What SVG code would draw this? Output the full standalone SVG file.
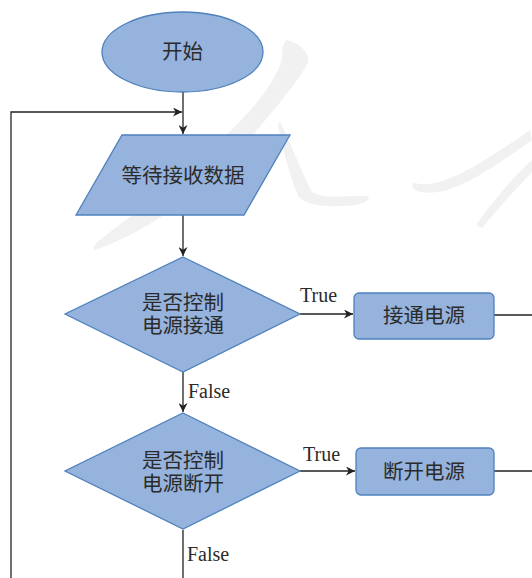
<svg xmlns="http://www.w3.org/2000/svg" width="532" height="578" viewBox="0 0 532 578">
<defs>
<style>
.shape{fill:#95B3DC;stroke:#4F81BD;stroke-width:1.3}
.cn{font-family:"Liberation Serif","Noto Sans CJK SC",serif;font-size:20.5px;fill:#2b2b2b;text-anchor:middle}
.lbl{font-family:"Liberation Serif",serif;font-size:20px;fill:#2b2b2b}
.wire{fill:none;stroke:#222;stroke-width:1.3}
.wm{fill:#f1f1f1;stroke:none}
</style>
<marker id="arr" viewBox="0 0 10 10" refX="10" refY="5" markerWidth="9" markerHeight="9" markerUnits="userSpaceOnUse" orient="auto">
<path d="M0,0 L10,5 L0,10 L3,5 Z" fill="#222"/>
</marker>
</defs>
<rect width="532" height="578" fill="#fff"/>
<g id="watermark">
<path class="wm" d="M286,40 C298,42 310,52 308,62 C300,80 270,115 240,150 C200,195 140,235 95,250 C90,247 100,240 110,232 C160,195 215,150 255,105 C275,80 285,60 282,48 Z"/>
<path class="wm" d="M280,122 C290,140 300,170 312,192 C325,200 350,195 368,196 C372,201 360,206 340,206 C320,207 305,204 298,196 C288,170 282,145 278,125 Z"/>
<path class="wm" d="M415,183 C440,190 480,165 530,130 L532,140 C490,170 450,198 420,192 C412,190 410,185 415,183 Z"/>
<path class="wm" d="M476,225 C490,205 510,180 532,160 L532,172 C515,190 495,212 482,228 Z"/>
</g>
<g id="connectors">
<line class="wire" x1="183" y1="92" x2="183" y2="134" marker-end="url(#arr)"/>
<polyline class="wire" points="11,578 11,112 182,112" marker-end="url(#arr)"/>
<line class="wire" x1="183" y1="215" x2="183" y2="256" marker-end="url(#arr)"/>
<line class="wire" x1="300" y1="314" x2="353" y2="314" marker-end="url(#arr)"/>
<line class="wire" x1="494" y1="315" x2="532" y2="315"/>
<line class="wire" x1="183" y1="372" x2="183" y2="412" marker-end="url(#arr)"/>
<line class="wire" x1="300" y1="471" x2="355" y2="471" marker-end="url(#arr)"/>
<line class="wire" x1="494" y1="471" x2="532" y2="471"/>
<line class="wire" x1="183" y1="530" x2="183" y2="578"/>
<text class="lbl" x="300" y="302">True</text>
<text class="lbl" x="303" y="461">True</text>
<text class="lbl" x="188" y="398">False</text>
<text class="lbl" x="187" y="561">False</text>
</g>
<g id="start">
<ellipse class="shape" cx="182.5" cy="52" rx="80.5" ry="40"/>
<text class="cn" x="182.5" y="59">开始</text>
</g>
<g id="wait">
<polygon class="shape" points="122,135 290,135 244,215 76,215"/>
<text class="cn" x="183" y="183">等待接收数据</text>
</g>
<g id="decision1">
<polygon class="shape" points="183,257 300,314 183,372 65,314"/>
<text class="cn" x="183" y="310">是否控制</text>
<text class="cn" x="183" y="333">电源接通</text>
</g>
<g id="on">
<rect class="shape" x="354" y="293" width="140" height="46" rx="5"/>
<text class="cn" x="424" y="323">接通电源</text>
</g>
<g id="decision2">
<polygon class="shape" points="183,413 300,471 183,529 65,471"/>
<text class="cn" x="183" y="468">是否控制</text>
<text class="cn" x="183" y="491">电源断开</text>
</g>
<g id="off">
<rect class="shape" x="356" y="448" width="138" height="47" rx="5"/>
<text class="cn" x="424" y="479">断开电源</text>
</g>
</svg>
